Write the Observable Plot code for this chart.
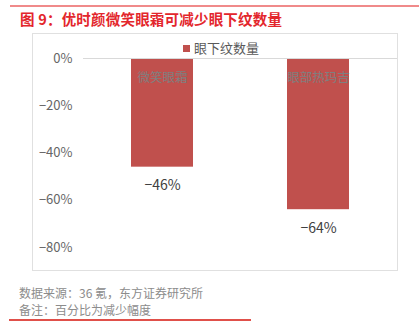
<!DOCTYPE html>
<html><head><meta charset="utf-8">
<script src="https://cdn.jsdelivr.net/npm/d3@7"></script>
<script src="https://cdn.jsdelivr.net/npm/@observablehq/plot@0.6"></script>
<style>
body{margin:0;width:419px;height:327px;position:relative;background:#fff;font-family:"Noto Sans CJK SC","Noto Sans",sans-serif;overflow:hidden}
#topline{position:absolute;left:10px;top:5px;width:409px;height:2px;background:#f08a8a}
#title{position:absolute;left:20px;top:8px;font-size:14.5px;font-weight:bold;color:#e3262c;white-space:nowrap;letter-spacing:0.2px}
#frame{position:absolute;left:32px;top:33px;width:364px;height:236px;border:1.5px solid #e0e0e0}
#chart{position:absolute;left:0;top:33px}
#legend{position:absolute;left:183px;top:38px;font-size:13px;color:#595959;white-space:nowrap}
#legend span{display:inline-block;width:7px;height:7px;background:#c0504d;margin-right:4px;vertical-align:1px}
.foot{position:absolute;left:19px;font-size:12px;color:#8c8c8c;white-space:nowrap}
#botline{position:absolute;left:9px;top:319px;width:242px;height:1.5px;background:#e0504a}
</style></head>
<body>
<div id="topline"></div>
<div id="title">图 9：优时颜微笑眼霜可减少眼下纹数量</div>
<div id="frame"></div>
<div id="chart"></div>
<div id="legend"><span></span>眼下纹数量</div>
<div class="foot" style="top:284px">数据来源：36 氪，东方证券研究所</div>
<div class="foot" style="top:301px">备注：百分比为减少幅度</div>
<div id="botline"></div>
<script>
const categories = ["微笑眼霜", "眼部热玛吉"];
const values = [-0.46, -0.64];
const yTicks = [0, -0.2, -0.4, -0.6, -0.8];
const seriesName = "眼下纹数量";

const data = categories.map((c, i) => ({cat: c, v: values[i]}));
const fmt = v => v === 0 ? "0%" : "−" + Math.round(Math.abs(v) * 100) + "%";

const plot = Plot.plot({
  width: 419,
  height: 237,
  marginLeft: 83,
  marginRight: 22,
  marginTop: 25,
  marginBottom: 23,
  style: {fontFamily: '"Noto Sans CJK SC","Noto Sans",sans-serif', background: "transparent", overflow: "visible"},
  x: {domain: categories, paddingInner: 0.604, paddingOuter: 0.305, axis: null},
  y: {domain: [-0.8, 0], ticks: yTicks, tickFormat: fmt},
  marks: [
    Plot.axisY({ticks: yTicks, tickFormat: fmt, tickSize: 0, tickPadding: 11, fontSize: 13, color: "#666666", label: null}),
    Plot.barY(data, {x: "cat", y: "v", fill: "#c0504d"}),
    Plot.ruleY([0], {stroke: "#d9d9d9", strokeWidth: 1}),
    Plot.text(data, {x: "cat", y: 0, text: "cat", dy: 19, fontSize: 12.5, fill: "#7f7f7f"}),
    Plot.text(data, {x: "cat", y: "v", text: d => fmt(d.v), dy: 18.5, fontSize: 14, fill: "#404040"})
  ]
});
document.getElementById("chart").appendChild(plot);
</script>
</body></html>
